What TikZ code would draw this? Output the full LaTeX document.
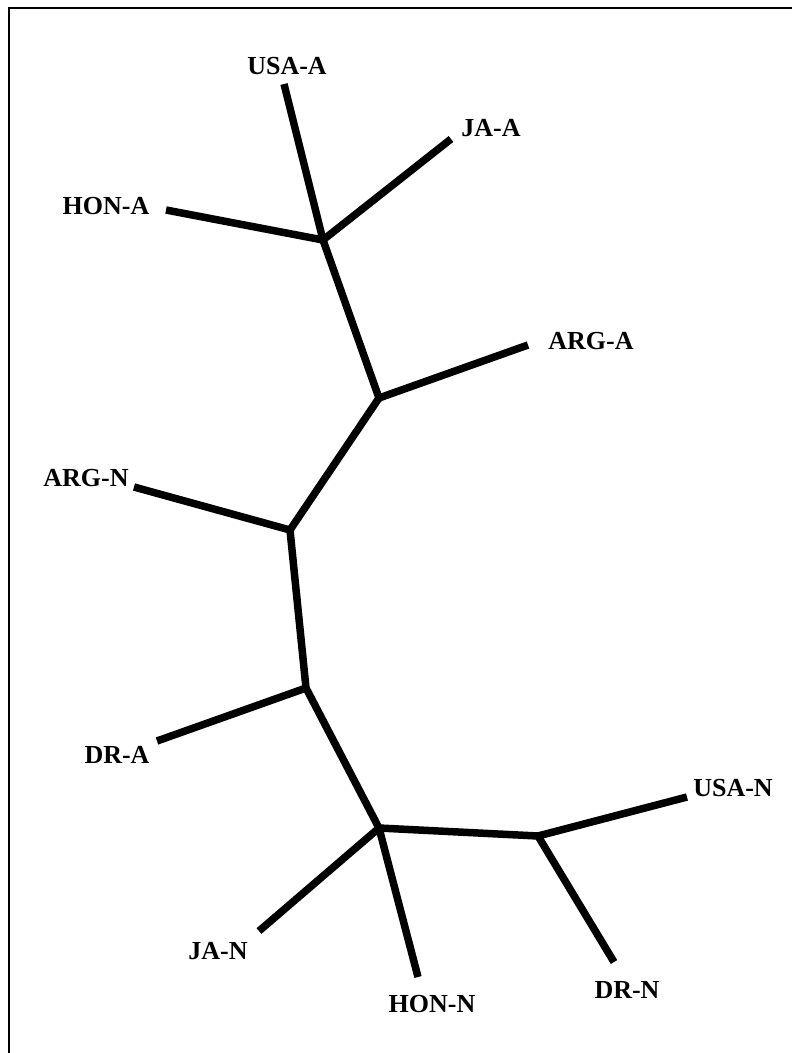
\documentclass[tikz,border=0pt]{standalone}
\usepackage{fontspec}
\setmainfont{Liberation Serif}
\begin{document}
\begin{tikzpicture}[x=1pt,y=-1pt,
  branch/.style={line width=7.5pt,line join=round},
  lbl/.style={font=\fontsize{26}{30}\selectfont\bfseries,inner sep=0pt},
  frame/.style={line width=2pt}]
\useasboundingbox (0,0) rectangle (792,1053);
\fill[white] (0,0) rectangle (792,1053);
\coordinate (fa) at (792,8);
\coordinate (fb) at (9,8);
\coordinate (fc) at (9,1053);
\draw[frame] (fa) -- (fb) -- (fc);
% internal vertices
\coordinate (n1) at (323,240);
\coordinate (n2) at (379,398);
\coordinate (n3) at (290,530);
\coordinate (n4) at (306,688);
\coordinate (n5) at (379,828);
\coordinate (n6) at (538,836);
% leaf ends
\coordinate (usaa) at (284,84);
\coordinate (jaa) at (451,139);
\coordinate (hona) at (166,210);
\coordinate (arga) at (528,345);
\coordinate (argn) at (134,487);
\coordinate (dra) at (157,741);
\coordinate (jan) at (259,931);
\coordinate (honn) at (418,977);
\coordinate (drn) at (614,962);
\coordinate (usan) at (687,797);
% labels
\node[lbl] (Lusaa) at (287,66) {USA-A};
\node[lbl] (Ljaa) at (491,128) {JA-A};
\node[lbl] (Lhona) at (106,206) {HON-A};
\node[lbl] (Larga) at (591,341) {ARG-A};
\node[lbl] (Largn) at (86,478) {ARG-N};
\node[lbl] (Ldra) at (117,755) {DR-A};
\node[lbl] (Ljan) at (218,951) {JA-N};
\node[lbl] (Lhonn) at (432,1004) {HON-N};
\node[lbl] (Ldrn) at (627,990) {DR-N};
\node[lbl] (Lusan) at (733,788) {USA-N};
% branches
\draw[branch] (usaa) -- (n1) -- (n2) -- (n3) -- (n4) -- (n5) -- (n6) -- (usan);
\draw[branch] (jaa) -- (n1);
\draw[branch] (hona) -- (n1);
\draw[branch] (arga) -- (n2);
\draw[branch] (argn) -- (n3);
\draw[branch] (dra) -- (n4);
\draw[branch] (jan) -- (n5);
\draw[branch] (honn) -- (n5);
\draw[branch] (drn) -- (n6);
\end{tikzpicture}
\end{document}
